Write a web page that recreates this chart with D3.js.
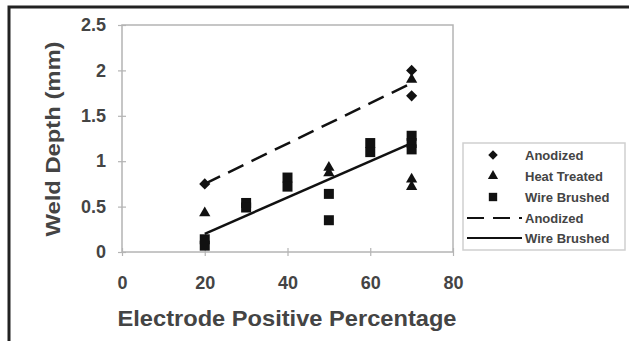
<!DOCTYPE html>
<html>
<head>
<meta charset="utf-8">
<script src="https://cdn.jsdelivr.net/npm/d3@7"></script>
<style>
  body { margin: 0; background: #fff; }
  svg { display: block; font-family: Arial, "Liberation Sans", sans-serif; }
</style>
</head>
<body>
<div id="chart"></div>
<script>
// data
const xTicks = [0, 20, 40, 60, 80];
const yTicks = [0, 0.5, 1, 1.5, 2, 2.5];

const anodizedX = [20, 70, 70];
const anodizedY = [0.75, 2.0, 1.72];

const heatX = [20, 50, 50, 70, 70, 70];
const heatY = [0.43, 0.93, 0.87, 0.8, 0.72, 1.9];

const wireX = [20, 20, 30, 30, 40, 40, 50, 50, 60, 60, 70, 70, 70];
const wireY = [0.14, 0.07, 0.54, 0.49, 0.82, 0.72, 0.64, 0.35, 1.2, 1.1, 1.28, 1.2, 1.13];

const anodizedFitX = [20, 70];
const anodizedFitY = [0.75, 1.86];
const wireFitX = [20, 70];
const wireFitY = [0.2, 1.2];

const legendLabels = ['Anodized', 'Heat Treated', 'Wire Brushed', 'Anodized', 'Wire Brushed'];

const width = 629, height = 341;
const plot = { left: 122, top: 25, right: 453, bottom: 252 };

const svg = d3.select('#chart').append('svg')
  .attr('width', width)
  .attr('height', height);

// outer frame (top + left edge only visible)
svg.append('path')
  .attr('d', `M9,${height} L9,7 L${width},7`)
  .attr('fill', 'none')
  .attr('stroke', '#222')
  .attr('stroke-width', 3);

const x = d3.scaleLinear().domain([0, 80]).range([plot.left, plot.right]);
const y = d3.scaleLinear().domain([0, 2.5]).range([plot.bottom, plot.top]);

// plot border
svg.append('rect')
  .attr('x', plot.left)
  .attr('y', plot.top)
  .attr('width', plot.right - plot.left)
  .attr('height', plot.bottom - plot.top)
  .attr('fill', 'none')
  .attr('stroke', '#b4b4b4')
  .attr('stroke-width', 1.5);

// axes
const xAxis = svg.append('g')
  .attr('transform', `translate(0,${plot.bottom})`)
  .call(d3.axisBottom(x).tickValues(xTicks).tickSize(4).tickPadding(20).tickFormat(d3.format('d')));
const yAxis = svg.append('g')
  .attr('transform', `translate(${plot.left},0)`)
  .call(d3.axisLeft(y).tickValues(yTicks).tickSize(4).tickPadding(12).tickFormat(d => String(d)));

[xAxis, yAxis].forEach(g => {
  g.select('.domain').remove();
  g.selectAll('.tick line').attr('stroke', '#b4b4b4').attr('stroke-width', 1.2);
  g.selectAll('.tick text')
    .attr('fill', '#444')
    .attr('font-size', 18)
    .attr('font-weight', 'bold')
    .attr('font-family', 'Arial, "Liberation Sans", sans-serif');
});
// ticks cross the axis line
xAxis.selectAll('.tick line').attr('y1', -4);
yAxis.selectAll('.tick line').attr('x1', 4);

// axis titles
svg.append('text')
  .attr('x', 287)
  .attr('y', 326)
  .attr('text-anchor', 'middle')
  .attr('font-size', 22)
  .attr('font-weight', 'bold')
  .attr('fill', '#444')
  .attr('textLength', 339)
  .attr('lengthAdjust', 'spacingAndGlyphs')
  .text('Electrode Positive Percentage');

svg.append('text')
  .attr('transform', 'translate(60,139) rotate(-90)')
  .attr('text-anchor', 'middle')
  .attr('font-size', 21)
  .attr('font-weight', 'bold')
  .attr('fill', '#444')
  .attr('textLength', 195)
  .attr('lengthAdjust', 'spacingAndGlyphs')
  .text('Weld Depth (mm)');

// trend lines
const line = d3.line().x(d => x(d[0])).y(d => y(d[1]));
svg.append('path')
  .datum(d3.zip(anodizedFitX, anodizedFitY))
  .attr('d', line)
  .attr('fill', 'none')
  .attr('stroke', '#111')
  .attr('stroke-width', 2.5)
  .attr('stroke-dasharray', '17,9');
svg.append('path')
  .datum(d3.zip(wireFitX, wireFitY))
  .attr('d', line)
  .attr('fill', 'none')
  .attr('stroke', '#111')
  .attr('stroke-width', 2.5);

// markers; the diamond is a square turned 45 degrees
const diamond = d3.symbol().type(d3.symbolSquare).size(62);
const triangle = d3.symbol().type(d3.symbolTriangle).size(55);
const square = d3.symbol().type(d3.symbolSquare).size(100);

function drawPoints(xs, ys, sym, rot) {
  svg.append('g').selectAll('path')
    .data(d3.zip(xs, ys))
    .join('path')
    .attr('transform', d => `translate(${x(d[0])},${y(d[1])}) rotate(${rot})`)
    .attr('d', sym)
    .attr('fill', '#111');
}
drawPoints(wireX, wireY, square, 0);
drawPoints(heatX, heatY, triangle, 0);
drawPoints(anodizedX, anodizedY, diamond, 45);

// legend
const legend = svg.append('g');
legend.append('rect')
  .attr('x', 463)
  .attr('y', 143)
  .attr('width', 162)
  .attr('height', 107)
  .attr('fill', '#fff')
  .attr('stroke', '#cfcfcf')
  .attr('stroke-width', 1.5);

const rowY = [155, 176, 197, 218, 238];
const legendSyms = [
  d3.symbol().type(d3.symbolSquare).size(45),
  d3.symbol().type(d3.symbolTriangle).size(45),
  d3.symbol().type(d3.symbolSquare).size(70)
];
legendLabels.forEach((label, i) => {
  if (i < 3) {
    legend.append('path')
      .attr('transform', `translate(493,${rowY[i]}) rotate(${i === 0 ? 45 : 0})`)
      .attr('d', legendSyms[i])
      .attr('fill', '#111');
  } else {
    legend.append('line')
      .attr('x1', 467).attr('x2', 522)
      .attr('y1', rowY[i]).attr('y2', rowY[i])
      .attr('stroke', '#111')
      .attr('stroke-width', 2)
      .attr('stroke-dasharray', i === 3 ? '17,9' : null);
  }
  legend.append('text')
    .attr('x', 525)
    .attr('y', rowY[i])
    .attr('dy', '0.35em')
    .attr('font-size', 13)
    .attr('font-weight', 'bold')
    .attr('fill', '#444')
    .text(label);
});
</script>
</body>
</html>
